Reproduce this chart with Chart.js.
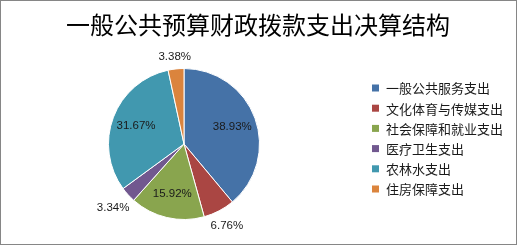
<!DOCTYPE html>
<html>
<head>
<meta charset="utf-8">
<script src="https://cdn.jsdelivr.net/npm/chart.js@4/dist/chart.umd.min.js"></script>
<style>
  html, body { margin: 0; padding: 0; background: #fff; }
  #wrap { width: 518px; height: 246px; position: relative; }
</style>
</head>
<body>
<div id="wrap"><canvas id="c" width="518" height="246"></canvas></div>
<script>
// Expenditure categories and their shares (%)
const categories = ['一般公共服务支出', '文化体育与传媒支出', '社会保障和就业支出', '医疗卫生支出', '农林水支出', '住房保障支出'];
const shares = [38.93, 6.76, 15.92, 3.34, 31.67, 3.38];
const sliceColors = ['#4572A7', '#AA4643', '#89A54E', '#71588F', '#4198AF', '#DB843D'];
const chartTitle = '一般公共预算财政拨款支出决算结构';

const labelFont = '11.5px "Liberation Sans", Arial, sans-serif';
const legendFont = '13px "Noto Sans CJK SC", sans-serif';

// Percentage labels: large slices inside, small slices just outside the rim
const sliceLabels = {
  id: 'sliceLabels',
  afterDatasetsDraw(chart) {
    const ctx = chart.ctx;
    const meta = chart.getDatasetMeta(0);
    ctx.save();
    ctx.font = labelFont;
    ctx.fillStyle = '#1a1a1a';
    ctx.textAlign = 'center';
    ctx.textBaseline = 'middle';
    meta.data.forEach((arc, i) => {
      const p = arc.getProps(['x', 'y', 'startAngle', 'endAngle', 'outerRadius'], true);
      const mid = (p.startAngle + p.endAngle) / 2;
      const c = Math.cos(mid), s = Math.sin(mid);
      const txt = shares[i].toFixed(2) + '%';
      let r;
      if (shares[i] >= 10) {
        r = p.outerRadius * 0.68;
      } else {
        const w = ctx.measureText(txt).width, h = 12;
        r = p.outerRadius + 4 + Math.abs(c) * w / 2 + Math.abs(s) * h / 2;
      }
      ctx.fillText(txt, p.x + c * r, p.y + s * r);
    });
    ctx.restore();
  }
};

// Title, legend and frame
const decorations = {
  id: 'decorations',
  afterDraw(chart) {
    const ctx = chart.ctx;
    ctx.save();
    ctx.fillStyle = '#000';
    ctx.font = '24px "Noto Sans CJK SC", sans-serif';
    ctx.textAlign = 'center';
    ctx.textBaseline = 'middle';
    ctx.fillText(chartTitle, 258, 25);

    ctx.font = legendFont;
    ctx.textAlign = 'left';
    const meta = chart.getDatasetMeta(0);
    categories.forEach((name, i) => {
      const y = 88 + i * 20.2;
      ctx.fillStyle = sliceColors[i];
      ctx.fillRect(372, y - 3.5, 7, 7);
      ctx.fillStyle = '#1a1a1a';
      ctx.fillText(name, 386, y + 0.5);
    });

    ctx.strokeStyle = '#868686';
    ctx.lineWidth = 1;
    ctx.strokeRect(0.5, 0.5, 516, 244);
    ctx.restore();
  }
};

new Chart(document.getElementById('c'), {
  type: 'pie',
  data: {
    labels: categories,
    datasets: [{
      data: shares,
      backgroundColor: sliceColors,
      borderColor: '#ffffff',
      borderWidth: 1
    }]
  },
  options: {
    responsive: false,
    animation: false,
    layout: { padding: { left: 108, top: 68, right: 258, bottom: 26 } },
    plugins: {
      legend: { display: false },
      title: { display: false },
      tooltip: { enabled: false }
    }
  },
  plugins: [sliceLabels, decorations]
});
</script>
</body>
</html>
